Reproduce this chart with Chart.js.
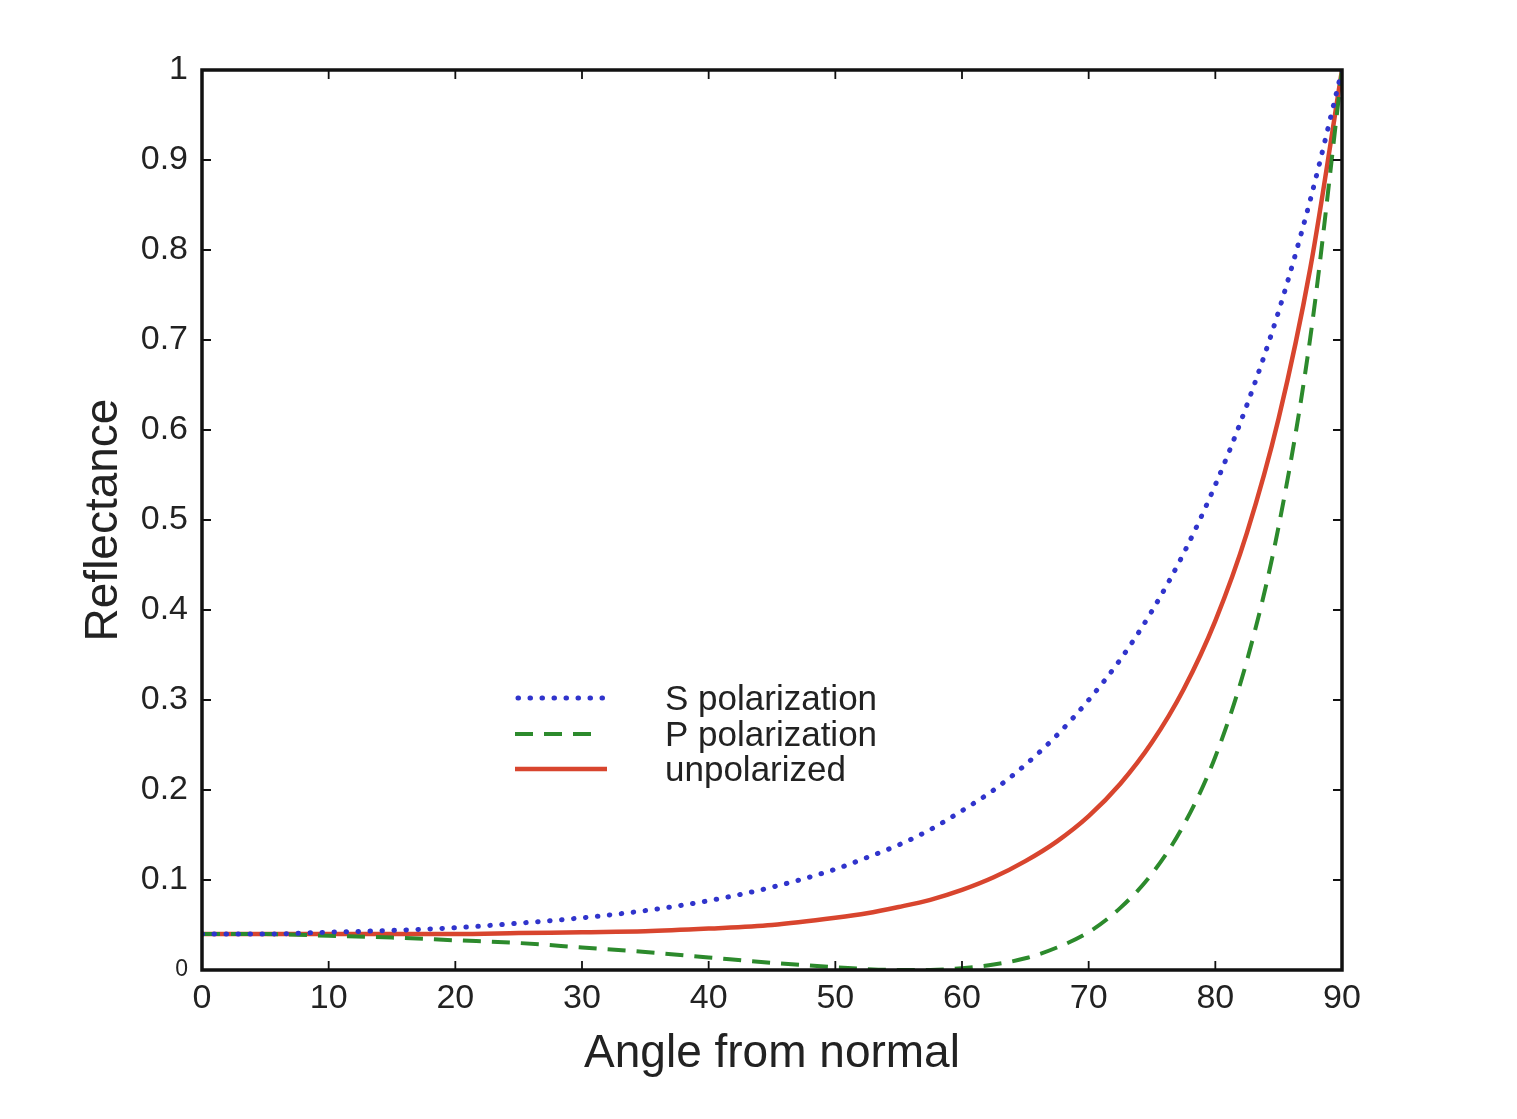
<!DOCTYPE html>
<html>
<head>
<meta charset="utf-8">
<script src="https://cdn.jsdelivr.net/npm/chart.js@4/dist/chart.umd.min.js"></script>
<style>
  html, body { margin: 0; padding: 0; background: #fff; }
  #wrap { width: 1517px; height: 1119px; }
</style>
</head>
<body>
<div id="wrap"><canvas id="fresnel"></canvas></div>
<script>
// angle of incidence (degrees) and reflectance
const angles = [0, 5, 10, 15, 20, 25, 30, 35, 40, 45, 50, 52.5, 55, 57.5, 60, 62.5, 65, 67.5, 70, 72.5, 75, 77.5, 80, 82.5, 85, 87.5, 90];
const sPol   = [0.040, 0.040, 0.042, 0.044, 0.047, 0.052, 0.058, 0.066, 0.077, 0.092, 0.112, 0.125, 0.139, 0.156, 0.177, 0.200, 0.228, 0.261, 0.300, 0.345, 0.399, 0.463, 0.539, 0.628, 0.732, 0.856, 1.000];
const pPol   = [0.040, 0.040, 0.038, 0.036, 0.033, 0.030, 0.025, 0.020, 0.014, 0.008, 0.003, 0.001, 0.000, 0.000, 0.002, 0.006, 0.013, 0.025, 0.042, 0.069, 0.107, 0.161, 0.237, 0.344, 0.493, 0.703, 1.000];
const unpol  = [0.040, 0.040, 0.040, 0.040, 0.040, 0.041, 0.042, 0.043, 0.046, 0.050, 0.058, 0.063, 0.070, 0.078, 0.089, 0.103, 0.121, 0.143, 0.171, 0.207, 0.253, 0.312, 0.388, 0.486, 0.613, 0.780, 1.000];

const xTicks = [0, 10, 20, 30, 40, 50, 60, 70, 80, 90];
const yTicks = [0, 0.1, 0.2, 0.3, 0.4, 0.5, 0.6, 0.7, 0.8, 0.9, 1];
const seriesNames = ['S polarization', 'P polarization', 'unpolarized'];

const FONT = '"Liberation Sans", Arial, Helvetica, sans-serif';
const INK = '#222';

function pts(vals) {
  return angles.map((a, i) => ({ x: a, y: vals[i] }));
}

// box + inward ticks on all four sides, matplotlib style
const framePlugin = {
  id: 'frame',
  afterDatasetsDraw(chart) {
    const { ctx, chartArea: a, scales } = chart;
    ctx.save();
    ctx.strokeStyle = '#111';
    ctx.lineWidth = 1.8;
    ctx.beginPath();
    xTicks.forEach(v => {
      const px = scales.x.getPixelForValue(v);
      ctx.moveTo(px, a.bottom); ctx.lineTo(px, a.bottom - 9);
      ctx.moveTo(px, a.top); ctx.lineTo(px, a.top + 9);
    });
    yTicks.forEach(v => {
      const py = scales.y.getPixelForValue(v);
      ctx.moveTo(a.left, py); ctx.lineTo(a.left + 9, py);
      ctx.moveTo(a.right, py); ctx.lineTo(a.right - 9, py);
    });
    ctx.stroke();
    ctx.lineWidth = 3.5;
    ctx.strokeRect(a.left, a.top, a.right - a.left, a.bottom - a.top);
    ctx.restore();
  }
};

// legend sits inside the axes with no box
const legendPlugin = {
  id: 'innerLegend',
  afterDatasetsDraw(chart) {
    const { ctx } = chart;
    const rows = [698, 734, 769];
    ctx.save();
    chart.data.datasets.forEach((ds, i) => {
      const y = rows[i];
      ctx.strokeStyle = ds.borderColor;
      ctx.lineWidth = ds.borderWidth;
      ctx.setLineDash(ds.borderDash || []);
      ctx.lineCap = ds.borderCapStyle || 'butt';
      ctx.beginPath();
      ctx.moveTo(i === 0 ? 518 : 515, y);
      ctx.lineTo(i === 1 ? 598 : 607, y);
      ctx.stroke();
      ctx.setLineDash([]);
      ctx.fillStyle = INK;
      ctx.font = '35px ' + FONT;
      ctx.textBaseline = 'middle';
      ctx.textAlign = 'left';
      ctx.fillText(seriesNames[i], 665, y + 2);
    });
    ctx.restore();
  }
};

new Chart(document.getElementById('fresnel'), {
  type: 'line',
  data: {
    datasets: [
      { label: seriesNames[0], data: pts(sPol), borderColor: '#3034cc', borderWidth: 5, borderDash: [0.5, 11.5], borderCapStyle: 'round' },
      { label: seriesNames[1], data: pts(pPol), borderColor: '#2c8a2c', borderWidth: 4, borderDash: [18, 11] },
      { label: seriesNames[2], data: pts(unpol), borderColor: '#d8452e', borderWidth: 4.5 }
    ]
  },
  options: {
    responsive: true,
    maintainAspectRatio: false,
    animation: false,
    events: [],
    layout: { padding: { left: 73, right: 175, top: 70, bottom: 33 } },
    elements: {
      point: { radius: 0 },
      line: { cubicInterpolationMode: 'monotone', fill: false }
    },
    plugins: { legend: { display: false }, tooltip: { enabled: false } },
    scales: {
      x: {
        type: 'linear',
        min: 0, max: 90,
        afterBuildTicks: s => { s.ticks = xTicks.map(v => ({ value: v })); },
        afterFit: s => { s.height = 116; },
        grid: { display: false },
        border: { display: false },
        ticks: { color: INK, font: { family: FONT, size: 34 }, padding: 0, maxRotation: 0 },
        title: { display: true, text: 'Angle from normal', color: INK, font: { family: FONT, size: 46 }, padding: { top: 10 } }
      },
      y: {
        type: 'linear',
        min: 0, max: 1,
        afterBuildTicks: s => { s.ticks = yTicks.map(v => ({ value: v })); },
        afterFit: s => { s.width = 129; },
        grid: { display: false },
        border: { display: false },
        ticks: {
          color: INK,
          padding: 6,
          font: c => ({ family: FONT, size: c.tick && c.tick.value === 0 ? 23 : 34 }),
          callback: v => String(+v.toFixed(1))
        },
        title: { display: true, text: 'Reflectance', color: INK, font: { family: FONT, size: 46 }, padding: { bottom: 8 } }
      }
    }
  },
  plugins: [framePlugin, legendPlugin]
});
</script>
</body>
</html>
